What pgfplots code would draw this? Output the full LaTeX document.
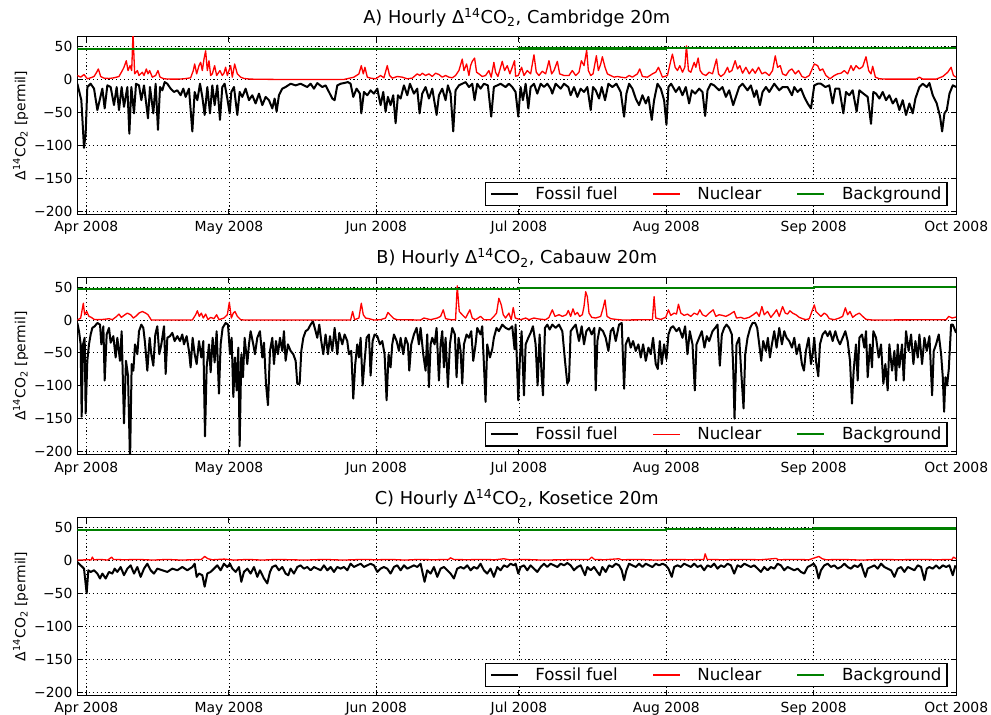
\documentclass[border=0pt]{standalone}
\usepackage{fontspec}
\setmainfont{DejaVu Sans}
\usepackage{pgfplots}
\pgfplotsset{compat=1.18}
\definecolor{mplgreen}{RGB}{0,128,0}
\newcommand{\dco}{Δ\textsuperscript{14}CO\textsubscript{2}}
\pgfplotsset{panel/.style={
  scale only axis, width=632.9pt, height=127.9pt,
  xmin=-1.9, xmax=183, ymin=-205, ymax=65,
  xtick={0,30,61,91,122,153,183},
  xticklabels={Apr 2008,May 2008,Jun 2008,Jul 2008,Aug 2008,Sep 2008,Oct 2008},
  ytick={-200,-150,-100,-50,0,50},
  yticklabels={−200,−150,−100,−50,0,50},
  grid=major,
  major grid style={black, line width=0.6pt, dash pattern=on 0.8pt off 2pt},
  tick align=inside, major tick length=4pt,
  every tick/.style={black, line width=0.7pt},
  axis line style={black, line width=0.8pt},
  tick label style={font=\fontsize{10}{12}\selectfont},
  xticklabel style={anchor=base, yshift=-12.5pt},
  title style={font=\fontsize{12.8}{14}\selectfont, at={(0.5,1)}, anchor=base, yshift=3.6pt},
  ylabel={\dco\ [permil]},
  ylabel style={at={(axis description cs:-0.0592,0.5)}, anchor=base, font=\fontsize{10}{12}\selectfont},
  legend columns=3,
  legend style={at={(1,0)}, anchor=south east, xshift=-6.3pt, yshift=6pt, draw=black, line width=0.8pt, fill=white,
    font=\fontsize{12}{14}\selectfont, inner xsep=3pt, inner ysep=2pt,
    /tikz/every odd column/.append style={column sep=11pt},
    /tikz/every even column/.append style={column sep=24pt},
    nodes={inner xsep=1pt, inner ysep=1pt}},
  legend image code/.code={\draw[#1, line cap=butt] (0pt,0pt) -- (19.4pt,0pt);},
  ffstyle/.style={black, line width=1.44pt, line join=round},
  nucstyle/.style={red, line width=0.95pt, line join=round},
  bgstyle/.style={mplgreen, line width=1.5pt},
}}
\begin{document}
\begin{tikzpicture}
\useasboundingbox (-55.66pt,26.42pt) rectangle (657.9pt,-488.4pt);
% ---------------- Panel A ----------------
\begin{axis}[panel, at={(0pt,0pt)}, anchor=north west, title={A) Hourly \dco, Cambridge 20m}]
\addplot[ffstyle] coordinates {
(-1.89,-6.5) (-1.05,-31.5) (-0.49,-104) (-0.14,-81.5) (0.21,-11.5) (0.91,-6.5) (1.62,-14) (2.32,-46.5) (3.37,-14) (3.86,-44)
(4.42,-9) (5.12,-11.5) (5.82,-39) (6.38,-11.5) (6.87,-46.5) (7.43,-11.5) (7.92,-41.5) (8.63,-11.5) (9.05,-82.5) (9.47,-11.5)
(10.03,-51.5) (10.45,-6.5) (11.08,-9) (11.57,-31.5) (12.13,-9) (12.97,-59) (13.39,-11.5) (14.09,-51.5) (14.58,-6.5) (15.07,-76.5)
(15.5,-11.5) (15.99,-16.5) (16.48,-4) (17.04,-6.5) (17.74,-14) (18.44,-19) (19.14,-16.5) (19.84,-24) (20.4,-14) (20.89,-26.5)
(21.59,-14) (22.3,-79) (22.79,-19) (23.35,-31.5) (23.91,-6.5) (24.4,-26.5) (24.89,-54) (25.45,-11.5) (26.01,-51.5) (26.5,-9)
(26.99,-39) (27.55,-9) (28.11,-61.5) (28.6,-11.5) (29.09,-6.5) (29.66,-29) (30.15,-51.5) (30.5,-19) (31.06,-11.5) (31.76,-54)
(32.25,-19) (32.81,-26.5) (33.51,-14) (34.21,-31.5) (34.91,-24) (35.61,-36.5) (36.31,-21.5) (37.02,-39) (37.72,-26.5) (38.42,-31.5)
(39.12,-44) (39.61,-29) (40.03,-49) (40.52,-24) (41.22,-14) (41.92,-11.5) (42.97,-6.5) (44.03,-9) (45.08,-6.5) (46.48,-11.5)
(47.18,-6.5) (47.88,-14) (48.58,-5.5) (49.63,-11.5) (50.33,-9) (51.04,-19) (51.74,-29) (52.23,-31.5) (52.79,-9) (53.49,-6.5)
(54.19,-5.5) (55.03,-4) (55.59,-6.5) (56.15,-26.5) (56.85,-14) (57.55,-21.5) (57.84,-51.5) (58.4,-19) (59.1,-24) (59.8,-16.5)
(60.5,-21.5) (61.2,-14) (61.9,-39) (62.46,-19) (62.95,-49) (63.44,-26.5) (64.0,-39) (64.56,-24) (65.06,-66.5) (65.55,-24)
(66.11,-29) (66.81,-9) (67.51,-24) (68.07,-6.5) (68.91,-21.5) (69.61,-14) (70.1,-51.5) (70.66,-21.5) (71.36,-11.5) (72.07,-29)
(72.77,-14) (73.68,-54) (74.17,-24) (74.87,-14) (75.57,-31.5) (76.06,-9) (76.62,-21.5) (77.18,-79) (77.67,-16.5) (78.37,-9)
(79.08,-6.5) (79.78,-4) (80.48,-11.5) (81.18,-6.5) (81.67,-31.5) (82.23,-6.5) (82.93,-14) (83.63,-6.5) (84.47,-9) (85.17,-56.5)
(85.73,-11.5) (86.44,-9) (87.14,-6.5) (88.19,-11.5) (88.89,-6.5) (89.59,-11.5) (90.29,-19)
(90.86,-56.5) (91.35,-11.5) (91.84,-31.5) (92.41,-6.5) (92.97,-44) (93.46,-11.5) (94.16,-6.5) (94.86,-21.5) (95.57,-6.5) (96.27,-11.5)
(96.97,-6.5) (97.67,-14) (98.02,-21.5) (98.72,-6.5) (99.78,-14) (100.48,-6.5) (101.39,-11.5) (101.88,-24) (102.59,-11.5) (103.29,-26.5)
(103.99,-14) (104.69,-19) (105.39,-11.5) (106.1,-46.5) (106.59,-11.5) (107.15,-16.5) (107.85,-29) (108.41,-11.5) (109.11,-31.5) (109.82,-6.5)
(110.66,-11.5) (111.5,-6.5) (112.41,-19) (113.12,-56.5) (113.61,-21.5) (114.17,-6.5) (114.87,-14) (115.57,-29) (116.27,-39) (116.98,-24)
(117.68,-36.5) (118.24,-26.5) (118.94,-61.5) (119.43,-31.5) (120.14,-6.5) (120.84,-14) (121.54,-31.5) (122.03,-69) (122.45,-11.5) (123.01,-6.5)
(124.0,-19) (124.7,-11.5) (125.4,-24) (126.1,-11.5) (126.8,-36.5) (127.37,-16.5) (128.07,-21.5) (128.91,-14) (129.61,-19) (130.17,-55.5)
(130.67,-16.5) (131.37,-6.5) (132.07,-9) (133.12,-16.5) (133.82,-11.5) (134.53,-26.5) (135.23,-16.5) (136.07,-39) (136.63,-26.5) (137.33,-11.5)
(138.04,-6.5) (139.09,-16.5) (139.79,-9) (140.49,-26.5) (140.98,-16.5) (141.69,-39) (142.25,-19) (142.95,-11.5) (143.65,-19) (144.71,-6.5)
(145.76,-16.5) (146.46,-11.5) (147.51,-11.5) (148.43,-24) (148.92,-11.5) (149.62,-19) (150.32,-14) (151.02,-26.5) (151.73,-36.5) (152.43,-44)
(153.13,-9) (153.83,-6.5) (154.53,-6.5) (155.45,-11.5) (156.29,-9) (156.99,-36.5) (157.55,-14) (158.39,-14) (159.24,-51.5) (159.8,-19)
(160.5,-24) (161.2,-16.5) (162.04,-49) (162.61,-16.5) (163.45,-21.5) (164.36,-26.5) (165.06,-67.5) (165.55,-19) (166.12,-21.5) (166.82,-29)
(167.52,-19) (168.22,-31.5) (168.92,-24) (169.63,-36.5) (170.33,-29) (171.03,-46.5) (171.73,-31.5) (172.43,-54) (173.14,-36.5) (173.84,-51.5)
(174.4,-29) (175.24,-11.5) (175.94,-6.5) (176.79,-11.5) (177.35,-5.5) (178.05,-24) (178.89,-36.5) (179.59,-56.5) (180.02,-79) (180.51,-51.5)
(181.0,-46.5) (181.56,-21.5) (182.26,-9) (182.96,-11.5)
};
\addlegendentry{Fossil fuel}
\addplot[nucstyle] coordinates {
(-1.89,6) (-1.19,3.5) (-0.49,7.5) (0.21,1) (0.91,2.5) (1.62,4.5) (2.18,11) (2.53,16) (3.02,4.5) (3.72,2)
(4.77,1.5) (5.82,2.5) (6.87,4.5) (7.57,13.5) (7.92,18.5) (8.41,28.5) (8.77,13.5) (9.19,21) (9.54,13.5) (9.82,70)
(10.17,8.5) (10.73,13.5) (11.08,6) (11.78,11) (12.13,6) (12.62,16) (12.97,8.5) (13.32,13.5) (13.88,3.5) (14.58,6)
(15.07,13.5) (15.5,3.5) (16.34,1) (17.74,0.5) (19.14,0.5) (20.54,1) (21.94,2.5) (22.5,13.5) (22.79,23.5) (23.21,8.5)
(23.7,21) (24.05,26) (24.4,13.5) (24.75,31) (25.1,43.5) (25.45,13.5) (25.8,28.5) (26.15,6) (26.5,8.5) (26.99,21)
(27.41,6) (28.11,13.5) (28.6,6) (28.95,9.5) (29.3,18.5) (29.66,6) (30.36,21) (30.71,3.5) (31.2,23.5) (31.76,8.5)
(32.46,3.5) (33.16,1.5) (34.56,0.5) (40.17,0) (54.19,0) (56.29,3.5) (57.34,8.5) (57.84,21) (58.26,8.5) (58.61,18.5)
(59.1,3.5) (59.8,2) (60.85,1) (61.9,6) (62.6,2.5) (63.3,21) (63.79,6) (64.35,2) (65.41,4.5) (66.46,3.5)
(67.51,1) (68.56,2) (69.61,8.5) (70.17,6) (70.66,9.5) (71.36,6) (72.07,8.5) (72.77,4.5) (73.47,9.5) (74.17,7.5)
(74.87,3.5) (75.57,6) (76.27,3.5) (76.97,2.5) (77.67,6) (78.37,13.5) (79.08,31) (79.43,13.5) (79.99,23.5) (80.48,6)
(80.83,21) (81.18,27.5) (81.67,32.5) (82.09,11) (82.58,8.5) (83.28,4.5) (83.98,6) (84.68,13.5) (85.17,3.5) (85.73,26)
(86.08,11) (86.58,4.5) (87.14,18.5) (87.49,27.5) (87.98,13.5) (88.54,21) (89.1,8.5) (89.59,18.5) (90.08,28.5) (90.3,5)
(90.86,6) (91.56,18.5) (92.06,6) (92.76,13.5) (93.46,8.5) (94.16,37.5) (94.65,11) (95.21,6) (95.92,12.5) (96.62,8.5)
(97.32,28.5) (97.88,8.5) (98.37,13.5) (99.08,27.5) (99.57,8.5) (100.48,6) (101.53,6) (102.23,13.5) (102.94,6) (103.64,11)
(104.13,28.5) (104.69,21) (105.25,44.5) (105.6,13.5) (106.1,6) (106.59,8.5) (107.29,36) (107.71,13.5) (108.2,23.5) (108.55,34.5)
(109.11,18.5) (109.61,8.5) (110.31,6) (111.01,3.5) (111.71,4.5) (112.41,3.5) (113.47,2.5) (114.17,6) (114.87,3.5) (115.92,8.5)
(116.41,16) (116.98,4.5) (118.03,3.5) (119.08,8.5) (119.78,11) (120.35,18.5) (121.19,3.5) (122.24,6) (122.94,28.5) (123.29,38.5)
(123.86,18.5) (124.35,13.5) (124.84,21) (125.4,11) (125.89,18.5) (126.24,51) (126.66,13.5) (127.16,11) (127.86,26) (128.21,18.5)
(128.7,32.5) (129.12,13.5) (129.61,8.5) (130.31,6) (131.02,11) (131.72,8.5) (132.56,31) (132.98,8.5) (133.47,4.5) (134.18,8.5)
(134.88,18.5) (135.23,11) (135.79,13.5) (136.49,28.5) (136.98,16) (137.47,21) (138.04,9.5) (138.74,18.5) (139.44,8.5) (140.14,16)
(140.7,9.5) (141.41,18.5) (142.11,8.5) (142.81,11) (143.65,6) (144.35,13.5) (144.92,36) (145.41,18.5) (145.97,21) (146.46,8.5)
(147.16,6) (147.86,13.5) (148.43,16) (149.13,8.5) (149.83,13.5) (150.53,4.5) (151.23,2.5) (152.08,6) (153.13,23.5) (153.83,21)
(154.32,13.5) (154.88,16) (155.59,6) (156.43,1) (157.34,6) (158.04,8.5) (158.75,9.5) (159.45,13.5) (160.15,8.5) (160.85,21)
(161.34,13.5) (161.9,21) (162.61,16) (163.31,19.5) (164.01,34.5) (164.57,13.5) (165.06,8.5) (165.41,20) (165.98,3.5) (166.82,1)
(168.22,0.5) (171.03,0.5) (174.54,0.5) (175.24,3.5) (175.94,0.5) (178.75,0.5) (180.16,4.5) (181.21,11) (181.91,18.5) (182.4,6)
(182.96,3.5)
};
\addlegendentry{Nuclear}
\addplot[bgstyle] coordinates {(-1.9,46) (61,46) (61,46.5) (91,46.5) (91,47) (122,47) (122,48) (153,48) (153,48.5) (183,48.5)};
\addlegendentry{Background}
\end{axis}
% ---------------- Panel B ----------------
\begin{axis}[panel, at={(0pt,-173.2pt)}, anchor=north west, title={B) Hourly \dco, Cabauw 20m}]
\addplot[ffstyle] coordinates {
(-1.89,-4.5) (-1.54,-17) (-1.19,-37) (-0.98,-147) (-0.7,-37) (-0.35,-27) (-0.14,-142) (0.21,-62) (0.56,-37) (0.91,-22)
(1.26,-12) (1.76,-9.5) (2.32,-4.5) (2.88,-7) (3.16,-37) (3.58,-9.5) (3.86,-92) (4.28,-22) (4.77,-12) (5.12,-34.5)
(5.68,-24.5) (6.17,-57) (6.52,-27) (7.08,-62) (7.43,-17) (7.92,-157) (8.34,-62) (8.77,-84.5) (9.19,-215) (9.54,-67)
(9.89,-77) (10.24,-37) (10.73,-52) (11.08,-17) (11.57,-7) (11.99,-12) (12.34,-34.5) (12.83,-77) (13.32,-27) (13.67,-52)
(14.09,-69.5) (14.51,-22) (14.93,-9.5) (15.35,-52) (15.78,-37) (16.34,-9.5) (16.69,-82) (17.04,-27) (17.6,-24.5) (18.09,-19.5)
(18.58,-32) (19.14,-24.5) (19.7,-32) (20.19,-22) (20.54,-37) (21.1,-24.5) (21.59,-47) (21.94,-72) (22.36,-27) (22.79,-52)
(23.21,-67) (23.7,-32) (24.19,-57) (24.61,-32) (24.96,-177) (25.31,-72) (25.8,-37) (26.15,-79.5) (26.57,-27) (26.99,-64.5)
(27.41,-17) (27.9,-112) (28.25,-37) (28.67,-12) (29.3,-4.5) (29.8,-7) (30.22,-52) (30.57,-27) (30.92,-117) (31.27,-57)
(31.62,-107) (31.97,-42) (32.25,-192) (32.6,-52) (32.95,-87) (33.3,-27) (33.86,-67) (34.21,-37) (34.56,-17) (35.12,-37)
(35.47,-52) (35.96,-27) (36.52,-17) (37.02,-57) (37.37,-34.5) (37.79,-97) (38.21,-129.5) (38.63,-47) (39.12,-27) (39.47,-67)
(39.89,-32) (40.31,-52) (40.73,-27) (41.22,-47) (41.57,-17) (41.92,-62) (42.41,-37) (42.97,-47) (43.53,-52) (44.03,-62)
(44.38,-97) (44.87,-97) (45.22,-47) (45.64,-27) (46.13,-17) (46.62,-14.5) (47.18,-7) (47.67,-2) (48.23,-17) (48.58,-27)
(49.0,-7) (49.42,-32) (49.84,-52) (50.33,-22) (50.83,-52) (51.25,-24.5) (51.74,-47) (52.23,-12) (52.79,-52) (53.21,-19.5)
(53.84,-37) (54.33,-22) (54.89,-32) (55.24,-52) (55.73,-47) (56.15,-119.5) (56.57,-67) (56.99,-37) (57.34,-57) (57.7,-27)
(58.12,-99.5) (58.54,-62) (58.96,-27) (59.45,-22) (59.8,-84.5) (60.22,-32) (60.64,-22) (61.2,-24.5) (61.76,-37) (62.25,-32)
(62.74,-52) (63.16,-122) (63.58,-52) (64.0,-72) (64.35,-37) (64.71,-22) (65.27,-32) (65.76,-47) (66.11,-27) (66.67,-52)
(67.16,-27) (67.65,-37) (67.93,-77) (68.35,-37) (68.91,-22) (69.47,-12) (69.96,-37) (70.31,-12) (70.87,-52) (71.36,-77)
(71.71,-22) (72.07,-102) (72.42,-37) (72.77,-27) (73.26,-37) (73.68,-12) (74.17,-92) (74.52,-37) (74.87,-17) (75.22,-72)
(75.57,-27) (76.06,-102) (76.48,-37) (76.97,-12) (77.53,-22) (77.88,-87) (78.3,-27) (78.73,-47) (79.08,-97) (79.43,-37)
(79.99,-22) (80.48,-27) (80.97,-17) (81.39,-62) (81.88,-37) (82.23,-12) (82.93,-22) (83.28,-9.5) (83.98,-124.5) (84.33,-37)
(84.89,-57) (85.38,-44.5) (85.73,-27) (86.29,-12) (86.78,-17) (87.49,-7) (88.19,-12) (88.89,-14.5) (89.59,-9.5) (90.08,-44.5)
(90.3,-7) (90.86,-122) (91.21,-57) (91.56,-17) (92.06,-114.5) (92.41,-37) (92.97,-27) (93.46,-19.5) (93.95,-9.5) (94.51,-37)
(94.93,-99.5) (95.35,-22) (95.78,-84.5) (96.06,-114.5) (96.48,-12) (96.97,-7) (97.46,-14.5) (98.02,-7) (98.72,-12) (99.43,-7)
(100.13,-17) (100.69,-62) (101.18,-97) (101.53,-92) (101.88,-17) (102.37,-12) (102.94,-7) (103.64,-32) (104.2,-9.5) (104.69,-37)
(105.18,-17) (105.74,-12) (106.31,-22) (106.87,-12) (107.15,-107) (107.5,-32) (107.99,-12) (108.69,-17) (109.25,-27) (109.82,-47)
(110.31,-17) (110.8,-12) (111.36,-32) (112.06,-7) (112.62,-4.5) (113.12,-104.5) (113.47,-37) (114.03,-27) (114.52,-42) (115.01,-32)
(115.57,-47) (116.13,-37) (116.63,-57) (117.12,-37) (117.68,-62) (118.24,-42) (118.73,-52) (119.22,-27) (119.78,-67) (120.21,-74.5)
(120.63,-32) (121.05,-67) (121.54,-37) (122.03,-59.5) (122.45,-22) (122.94,-12) (123.43,-9.5) (124.14,-17) (124.7,-12) (125.4,-27)
(125.96,-9.5) (126.45,-52) (126.94,-17) (127.51,-37) (128.0,-107) (128.35,-37) (128.91,-27) (129.47,-17) (130.03,-42) (130.52,-24.5)
(131.02,-32) (131.72,-17) (132.28,-12) (132.77,-7) (133.26,-69.5) (133.68,-22) (134.18,-12) (134.67,-7) (135.23,-12) (135.79,-22)
(136.07,-72) (136.35,-150) (136.77,-37) (137.33,-27) (137.83,-87) (138.25,-134.5) (138.6,-52) (139.09,-27) (139.65,-12) (140.14,-4.5)
(140.7,-4.5) (141.12,-12) (141.55,-37) (141.97,-62) (142.39,-32) (142.95,-47) (143.37,-27) (143.79,-57) (144.21,-37) (144.71,-17)
(145.2,-42) (145.76,-12) (146.32,-37) (146.81,-17) (147.3,-27) (147.86,-32) (148.43,-42) (148.92,-27) (149.41,-52) (149.97,-37)
(150.53,-67) (150.95,-77) (151.37,-47) (151.94,-27) (152.43,-67) (152.78,-52) (153.13,-27) (153.48,-62) (153.97,-85.5) (154.32,-37)
(154.88,-22) (155.45,-17) (155.94,-24.5) (156.43,-17) (156.99,-32) (157.55,-17) (158.04,-29.5) (158.53,-37) (159.1,-27) (159.66,-17)
(160.15,-32) (160.64,-62) (161.06,-127) (161.41,-77) (161.9,-37) (162.26,-92) (162.61,-27) (163.17,-22) (163.66,-42) (164.01,-17)
(164.36,-87) (164.85,-37) (165.27,-72) (165.55,-17) (166.12,-27) (166.68,-57) (167.17,-37) (167.66,-97) (168.08,-67) (168.57,-107)
(168.92,-37) (169.49,-77) (169.98,-47) (170.33,-92) (170.68,-37) (171.03,-72) (171.59,-37) (171.94,-92) (172.43,-17) (172.98,-47)
(173.49,-22) (173.98,-67) (174.4,-32) (174.89,-57) (175.24,-22) (175.8,-67) (176.3,-27) (176.79,-47) (177.35,-24.5) (177.91,-114.5)
(178.26,-47) (178.75,-37) (179.31,-22) (179.81,-52) (180.16,-87) (180.44,-139.5) (180.72,-87) (181.07,-99.5) (181.42,-74.5) (181.91,-7)
(182.26,-7) (182.82,-17) (182.96,-19.5)
};
\addlegendentry{Fossil fuel}
\addplot[nucstyle] coordinates {
(-1.89,0) (-1.19,3) (-0.63,25.5) (-0.35,8) (0.07,13) (0.56,5.5) (1.05,4) (1.62,1) (2.32,0.5) (3.72,1)
(4.77,2) (5.47,0.5) (6.38,5.5) (6.87,9) (7.36,4) (7.92,7) (8.63,10.5) (9.33,8) (9.89,3) (10.38,5.5)
(11.08,10.5) (11.78,13) (12.48,10.5) (12.97,8) (13.67,0) (14.93,0) (22.3,0) (23.0,8) (23.35,14) (23.77,5.5)
(24.19,10.5) (24.61,3) (25.1,9) (25.59,0.5) (26.15,4) (26.85,2) (27.41,8) (27.9,0.5) (28.95,3) (29.66,8)
(30.08,27) (30.5,3) (30.92,10.5) (31.27,13) (31.76,5.5) (32.46,0.5) (33.16,0) (55.59,0) (56.01,13) (56.43,0.5)
(57.34,3) (57.84,25.5) (58.26,8) (58.75,3) (59.45,2) (60.5,0) (61.9,0.5) (62.95,3) (63.44,11.5) (64.0,7)
(64.71,2) (65.41,0.5) (70.31,0) (71.01,3) (72.42,0.5) (73.82,3) (74.52,5.5) (75.08,15.5) (75.57,2) (76.62,0.5)
(77.67,0.5) (78.02,52) (78.45,13) (79.08,8) (79.78,3) (80.69,15.5) (81.18,3) (81.88,0.5) (82.93,5.5) (83.63,0.5)
(85.03,0.5) (85.73,5.5) (86.29,10.5) (86.78,33) (87.28,23) (87.7,8) (88.19,3) (88.89,10.5) (89.38,0.5) (89.8,19)
(90.22,3) (91.35,0.5) (92.41,3) (93.11,0.5) (94.16,3) (95.21,1.5) (96.62,0.5) (97.32,4) (98.02,15.5) (98.58,5.5)
(99.43,8) (100.13,5.5) (100.97,8) (101.39,14.5) (101.88,5.5) (102.37,17) (102.8,8) (103.29,11.5) (103.78,5.5) (104.34,8)
(104.69,20.5) (105.04,43) (105.39,35.5) (105.74,10.5) (106.31,4) (107.15,3) (108.2,5.5) (108.69,18) (109.11,30.5) (109.53,5.5)
(110.31,2) (111.36,1) (112.76,0) (119.08,0.5) (119.43,35.5) (119.78,3) (120.84,1) (121.89,4) (122.45,15.5) (122.94,7)
(123.65,10.5) (124.14,9) (124.56,24) (125.05,10.5) (125.75,7) (126.45,9) (127.16,5.5) (127.86,10.5) (128.56,8) (129.05,15.5)
(129.61,8) (130.31,5.5) (131.02,10.5) (131.86,15.5) (132.42,5.5) (133.12,8) (133.82,7) (134.53,5.5) (135.23,8) (136.28,13)
(136.77,3) (137.69,4) (138.39,2) (139.44,4) (140.28,8) (140.98,12) (141.55,5.5) (142.11,20.5) (142.6,8) (143.3,13)
(144.0,4) (144.71,10.5) (145.2,15.5) (145.76,5.5) (146.46,20.5) (147.02,10.5) (147.51,9) (148.0,14) (148.57,10.5) (149.27,8)
(149.97,4) (150.67,2) (151.37,0.5) (152.08,2) (153.13,23) (153.48,13) (154.04,9) (154.53,5.5) (155.24,10.5) (155.73,8)
(156.29,2) (157.34,0.5) (158.39,3) (159.1,5.5) (159.66,18.5) (160.15,8) (160.64,13) (161.2,4) (161.9,8) (162.61,10.5)
(163.31,5.5) (164.01,1) (165.41,0) (180.86,0.5) (181.42,5.5) (182.12,3) (182.96,4.5)
};
\addlegendentry{Nuclear}
\addplot[bgstyle] coordinates {(-1.9,46.5) (61,46.5) (61,47) (91,47) (91,48) (122,48) (122,48.5) (153,48.5) (153,49.5) (183,49.5)};
\addlegendentry{Background}
\end{axis}
% ---------------- Panel C ----------------
\begin{axis}[panel, at={(0pt,-346.3pt)}, anchor=north west, title={C) Hourly \dco, Kosetice 20m}]
\addplot[ffstyle] coordinates {
(-1.89,-2.5) (-1.19,-7.5) (-0.49,-12.5) (0.07,-50) (0.42,-15) (0.91,-17.5) (1.62,-15) (2.32,-20) (2.88,-27.5) (3.37,-20)
(4.07,-27.5) (4.77,-17.5) (5.47,-20) (5.96,-12.5) (6.52,-17.5) (7.22,-10) (7.92,-22.5) (8.63,-12.5) (9.33,-7.5) (10.03,-20)
(10.73,-10) (11.43,-25) (12.13,-12.5) (12.83,-5) (13.53,-15) (14.23,-20) (14.93,-12.5) (15.99,-15) (17.04,-17.5) (18.09,-12.5)
(19.14,-15) (20.19,-10) (21.24,-15) (22.3,-10) (22.79,-5) (23.21,-25) (23.7,-20) (24.4,-22.5) (24.89,-40) (25.45,-20)
(26.15,-17.5) (26.85,-12.5) (27.55,-7.5) (28.25,-15) (28.95,-5) (29.66,-10) (30.22,-5) (30.71,-12.5) (31.41,-17.5) (32.11,-10)
(32.6,-32.5) (33.16,-17.5) (33.86,-12.5) (34.56,-20) (35.26,-10) (35.96,-25) (36.52,-15) (37.37,-27.5) (38.07,-35) (38.63,-17.5)
(39.12,-10) (39.82,-7.5) (40.52,-15) (41.22,-10) (41.92,-20) (42.48,-22.5) (42.97,-12.5) (43.67,-20) (44.38,-10) (45.08,-7.5)
(45.78,-12.5) (46.48,-10) (47.18,-15) (47.88,-10) (48.58,-12.5) (49.28,-15) (49.98,-7.5) (50.69,-15) (51.39,-10) (52.09,-17.5)
(52.79,-10) (53.49,-12.5) (54.19,-10) (54.89,-15) (55.59,-5) (56.29,-10) (56.99,-7.5) (57.7,-5) (58.4,-10) (59.1,-7.5)
(59.8,-5) (60.5,-7.5) (61.2,-17.5) (61.9,-12.5) (62.6,-10) (63.3,-12.5) (64.0,-20) (64.71,-10) (65.41,-7.5) (66.11,-15)
(66.81,-7.5) (67.51,-12.5) (68.21,-10) (68.91,-7.5) (69.61,-10) (70.31,-5) (71.15,-32.5) (71.71,-15) (72.42,-20) (73.12,-10)
(73.82,-25) (74.52,-12.5) (75.22,-10) (75.92,-15) (76.62,-20) (77.32,-27.5) (78.02,-12.5) (78.73,-10) (79.43,-12.5) (80.13,-7.5)
(80.83,-15) (81.53,-10) (82.23,-12.5) (82.93,-5) (83.63,-15) (84.33,-20) (85.03,-12.5) (85.73,-25) (86.44,-10) (87.14,-15)
(87.84,-7.5) (88.54,-10) (89.24,-5) (89.94,-7.5)
(90.3,-5) (90.86,-20) (91.35,-10) (92.06,-7.5) (92.76,-15) (93.46,-7.5) (94.16,-12.5) (94.86,-17.5) (95.57,-10) (96.27,-5)
(96.97,-10) (97.67,-5) (98.37,-7.5) (99.08,-10) (99.78,-5) (100.48,-7.5) (101.18,-4) (101.88,-7.5) (102.59,-15) (103.29,-10)
(103.99,-7.5) (104.9,-22.5) (105.39,-10) (106.1,-15) (106.8,-10) (107.5,-17.5) (107.99,-22.5) (108.55,-10) (109.25,-17.5) (109.96,-7.5)
(110.66,-10) (111.36,-5) (112.06,-7.5) (112.62,-15) (113.12,-30) (113.61,-15) (114.17,-5) (114.87,-7.5) (115.57,-10) (116.27,-5)
(116.98,-10) (117.68,-5) (118.38,-7.5) (119.08,-10) (119.78,-5) (120.49,-7.5) (121.19,-5) (121.89,-7.5) (122.45,-12.5) (123.15,-25)
(123.65,-10) (124.35,-7.5) (125.05,-10) (125.75,-5) (126.45,-7.5) (127.16,-10) (127.86,-5) (128.56,-10) (129.26,-7.5) (129.96,-15)
(130.67,-7.5) (131.37,-10) (132.07,-5) (132.77,-12.5) (133.47,-7.5) (134.18,-10) (134.88,-5) (135.58,-7.5) (136.28,-20) (136.98,-7.5)
(137.69,-10) (138.39,-5) (139.09,-7.5) (139.79,-10) (140.49,-7.5) (141.2,-12.5) (141.9,-17.5) (142.6,-10) (143.3,-15) (144.0,-10)
(144.71,-12.5) (145.41,-5) (146.11,-7.5) (146.81,-15) (147.51,-10) (148.22,-12.5) (148.92,-15) (149.62,-12.5) (150.32,-17.5) (151.02,-20)
(151.73,-10) (152.43,-7.5) (152.99,-5) (153.48,-10) (154.04,-27.5) (154.53,-15) (155.24,-7.5) (155.94,-5) (156.64,-10) (157.34,-7.5)
(158.04,-12.5) (158.75,-10) (159.45,-5) (160.15,-10) (160.85,-12.5) (161.55,-7.5) (162.26,-10) (162.96,-5) (163.87,-25) (164.36,-12.5)
(165.06,-10) (165.77,-7.5) (166.47,-12.5) (167.17,-5) (167.87,-10) (168.57,-12.5) (169.28,-15) (169.98,-25) (170.68,-12.5) (171.38,-10)
(172.08,-17.5) (172.79,-10) (173.49,-12.5) (174.19,-15) (174.89,-7.5) (175.59,-10) (176.3,-30) (176.79,-12.5) (177.35,-10) (178.05,-12.5)
(178.75,-7.5) (179.45,-12.5) (180.16,-7.5) (180.86,-10) (181.56,-7.5) (182.26,-22.5) (182.82,-7.5)
};
\addlegendentry{Fossil fuel}
\addplot[nucstyle] coordinates {
(-1.89,0.5) (0.5,1) (1.0,0.5) (1.26,5) (1.6,1) (3,1.5) (4.5,0.5) (5.33,5) (5.7,1.5) (8,1)
(11,1.5) (14,0.5) (17,1.5) (20,0.5) (24.2,1.5) (24.9,6) (25.6,2.5) (26.5,1) (29,2) (31,0.5)
(34,1.5) (37,0.5) (40,1.5) (43,1) (46,0.5) (50,1.5) (54,0.5) (58,1.5) (61,1) (64,1.5)
(67,0.5) (70,1.5) (73,1) (76.2,1.5) (76.6,4) (77.3,1.5) (80,1) (83,1.5) (86,1) (87.8,2.5)
(89,1) (92,1.5) (96,0.5) (100,1) (103,1.5) (105.8,1.5) (106.3,5) (106.9,1.5) (109,1) (112,2.5)
(112.6,1) (116,1.5) (120,0.5) (124,1.5) (127,1) (129.9,1.5) (130.17,10) (130.6,1.5) (134,1) (138,1.5)
(141.9,1) (145.1,3) (145.6,1) (149,1.5) (152,1) (154.1,6) (154.8,2.5) (155.6,1) (159,1.5) (163,0.5)
(167,1.5) (171,1) (175,1.5) (179,1) (182.1,1.5) (182.4,5) (183,2.5)
};
\addlegendentry{Nuclear}
\addplot[bgstyle] coordinates {(-1.9,46) (91,46) (91,46.5) (122,46.5) (122,47.5) (153,47.5) (153,48.5) (183,48.5)};
\addlegendentry{Background}
\end{axis}
\end{tikzpicture}
\end{document}
